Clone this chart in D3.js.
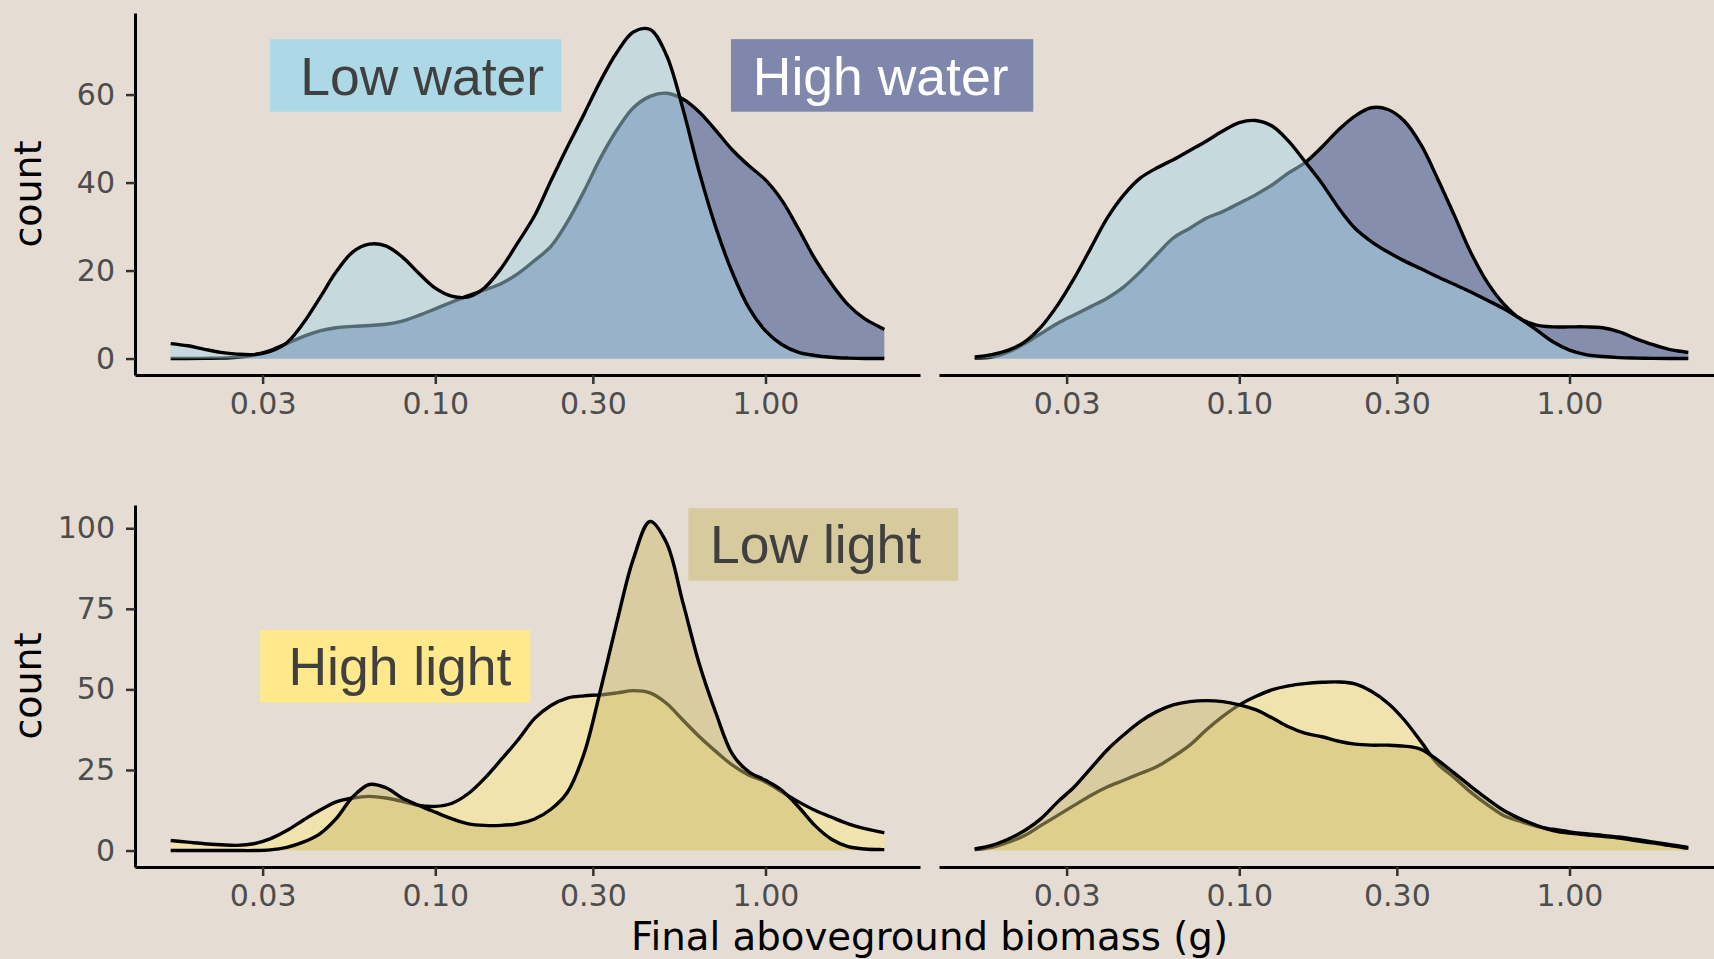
<!DOCTYPE html>
<html>
<head>
<meta charset="utf-8">
<script src="https://cdn.jsdelivr.net/npm/d3@7"></script>
<style>
    body { margin: 0; background: #E5DDD4; }
    svg { display: block; }
</style>
</head>
<body>
<svg id="chart" width="1714" height="959"></svg>
<script>
// biomass grid (g) the densities were read at
const biomass = [0.0158, 0.0178, 0.02, 0.0224, 0.0251, 0.0282, 0.0316, 0.0355, 0.0398, 0.0447,
    0.0501, 0.0562, 0.0631, 0.0708, 0.0794, 0.0891, 0.1, 0.112, 0.126, 0.141,
    0.158, 0.178, 0.2, 0.224, 0.251, 0.282, 0.316, 0.355, 0.398, 0.447,
    0.501, 0.562, 0.631, 0.708, 0.794, 0.891, 1, 1.12, 1.26, 1.41,
    1.58, 1.78, 2, 2.24, 2.29];

// water treatment, left column
const lowWaterLeft = [3.4, 2.9, 2.1, 1.4, 1.0, 0.9, 1.6, 3.6, 8.0, 13.8,
    19.7, 24.2, 26.0, 25.6, 23.1, 19.4, 16.0, 14.2, 14.0, 16.1,
    20.4, 26.4, 32.5, 40.4, 48.0, 55.5, 63.0, 69.6, 74.2, 74.8,
    69.0, 56.8, 42.2, 29.7, 19.5, 11.5, 6.3, 3.2, 1.4, 0.7,
    0.3, 0.1, 0, 0, 0];
const highWaterLeft = [0, 0, 0.05, 0.1, 0.3, 0.8, 1.8, 3.4, 5.0, 6.3,
    7.0, 7.3, 7.5, 7.8, 8.5, 9.8, 11.3, 12.8, 14.3, 15.6,
    17.0, 19.3, 22.3, 25.5, 31.0, 38.0, 45.5, 52.0, 57.0, 59.6,
    60.3, 59.0, 56.0, 51.8, 47.4, 43.8, 40.6, 36.0, 29.4, 22.7,
    17.1, 12.2, 9.0, 7.0, 6.6];

// water treatment, right column
const lowWaterRight = [0.35, 0.9, 1.9, 3.8, 7.2, 12.2, 18.2, 25.1, 31.9, 37.2,
    41.0, 43.3, 45.2, 47.3, 49.4, 51.7, 53.6, 54.1, 52.8, 49.4,
    44.8, 39.8, 34.2, 29.6, 26.6, 24.2, 22.2, 20.4, 18.6, 16.9,
    15.2, 13.3, 11.4, 9.1, 6.5, 3.8, 1.9, 0.9, 0.45, 0.2,
    0.1, 0.05, 0, 0, 0];
const highWaterRight = [0.1, 0.35, 1.5, 3.4, 5.7, 8.0, 9.9, 11.8, 13.7, 16.3,
    19.7, 23.6, 27.4, 29.6, 31.9, 33.4, 35.3, 37.2, 39.5, 42.2,
    44.5, 48.1, 52.0, 55.1, 57.0, 56.6, 54.0, 48.6, 41.0, 32.7,
    24.3, 17.5, 12.5, 9.1, 7.6, 7.2, 7.2, 7.2, 7.0, 6.1,
    4.6, 3.2, 2.1, 1.5, 1.4];

// light treatment, left column
const highLightLeft = [3.1, 2.6, 2.1, 1.8, 1.6, 2.1, 3.6, 6.2, 9.4, 12.5,
    15.1, 16.3, 16.8, 16.3, 15.3, 14.0, 13.7, 14.6, 17.7, 22.4,
    28.1, 34.3, 41.0, 45.0, 47.3, 48.0, 48.3, 48.9, 49.6, 48.9,
    45.7, 40.5, 35.3, 30.7, 26.5, 23.4, 21.3, 18.2, 15.1, 12.5,
    10.4, 8.3, 6.8, 5.7, 5.5];
const lowLightLeft = [0, 0, 0, 0, 0, 0, 0.2, 1.0, 2.6, 5.2,
    9.9, 16.6, 20.5, 19.5, 16.3, 14.0, 11.9, 9.9, 8.3, 7.8,
    7.8, 8.3, 9.8, 12.8, 18.0, 30.0, 49.5, 71.0, 90.5, 102.1,
    95.6, 77.0, 57.7, 42.6, 29.9, 24.4, 21.8, 18.7, 13.5, 7.8,
    3.6, 1.2, 0.5, 0.3, 0.3];

// light treatment, right column
const highLightRight = [0.3, 1.0, 2.6, 4.7, 7.8, 10.9, 14.0, 17.1, 19.7, 21.8,
    23.9, 26.0, 29.1, 32.7, 37.4, 41.6, 45.2, 47.8, 49.9, 51.1,
    51.8, 52.2, 52.3, 51.7, 49.4, 45.7, 40.5, 33.8, 27.0, 22.7,
    18.2, 14.3, 10.9, 9.1, 7.5, 6.6, 5.8, 5.2, 4.7, 4.2,
    3.5, 2.7, 1.9, 1.1, 1.0];
const lowLightRight = [0.5, 1.6, 3.6, 6.2, 9.9, 15.1, 19.7, 25.5, 31.2, 35.9,
    40.0, 43.1, 45.2, 46.2, 46.5, 46.2, 45.2, 43.7, 41.1, 38.4,
    36.4, 35.3, 33.9, 33.0, 32.7, 32.7, 32.4, 31.4, 28.1, 24.1,
    20.0, 16.1, 12.5, 9.9, 7.8, 6.2, 5.4, 4.9, 4.4, 3.9,
    3.1, 2.4, 1.6, 0.8, 0.8];

// tick values
const xTicks = [0.03, 0.1, 0.3, 1];
const waterTicks = [0, 20, 40, 60];
const lightTicks = [0, 25, 50, 75, 100];

// text labels, placed in data units (biomass, count)
const waterLabels = [
    { text: "Low water", x0: 0.0316, x1: 0.241, y0: 56.1, y1: 72.6, tx: 0.039, ty: 59.9, fill: "#ADD8E6", color: "#404040" },
    { text: "High water", x0: 0.786, x1: 6.47, y0: 56.1, y1: 72.6, tx: 0.915, ty: 59.9, fill: "#7F87AD", color: "#FFFFFF" },
];
const lightLabels = [
    { text: "High light", x0: 0.0295, x1: 0.194, y0: 45.9, y1: 68.4, tx: 0.0359, ty: 51.4, fill: "#FFE98B", color: "#404040" },
    { text: "Low light", x0: 0.584, x1: 3.83, y0: 83.7, y1: 106.2, tx: 0.679, ty: 89.1, fill: "#D7CA9C", color: "#404040" },
];

// layout
const columnsX = [135, 939];
const panelWidth = 785;
const tickFont = "DejaVu Sans";

const svg = d3.select("#chart");

// log x scale with ggplot like 5% expansion
const logMin = Math.log10(d3.min(biomass)),
    logMax = Math.log10(d3.max(biomass)),
    logPad = (logMax - logMin) * 0.05;
const xScale = d3
    .scaleLog()
    .domain([Math.pow(10, logMin - logPad), Math.pow(10, logMax + logPad)])
    .range([0, panelWidth]);

const rows = [
    {
        top: 13,
        bottom: 375,
        ticks: waterTicks,
        labels: waterLabels,
        high: { fill: "#868EAE", opacity: 1 },
        low: { fill: "#A7D5E4", opacity: 0.5 },
        panels: [[highWaterLeft, lowWaterLeft], [highWaterRight, lowWaterRight]],
    },
    {
        top: 505,
        bottom: 867,
        ticks: lightTicks,
        labels: lightLabels,
        high: { fill: "#F1E3AE", opacity: 1 },
        low: { fill: "#CBBB6C", opacity: 0.5 },
        panels: [[highLightLeft, lowLightLeft], [highLightRight, lowLightRight]],
    },
];

rows.forEach((row) => {
    // shared y scale for the row
    const yMax = d3.max(row.panels.flat(2));
    const yScale = d3
        .scaleLinear()
        .domain([-yMax * 0.05, yMax * 1.05])
        .range([row.bottom, row.top]);

    const curve = d3.curveCatmullRom.alpha(0.5);

    const area = d3
        .area()
        .x((d) => xScale(d[0]))
        .y0(yScale(0))
        .y1((d) => yScale(Math.max(0, d[1])))
        .curve(curve);

    const line = d3
        .line()
        .x((d) => xScale(d[0]))
        .y((d) => yScale(d[1]))
        .curve(curve);

    row.panels.forEach(([highValues, lowValues], col) => {
        const g = svg
            .append("g")
            .attr("transform", "translate(" + columnsX[col] + ",0)");

        // high first, low drawn on top of it
        [[highValues, row.high], [lowValues, row.low]].forEach(([values, style]) => {
            const points = biomass.map((b, i) => [b, values[i]]);
            g.append("path")
                .datum(points)
                .attr("d", area)
                .style("fill", style.fill)
                .style("fill-opacity", style.opacity);
            g.append("path")
                .datum(points)
                .attr("d", line)
                .style("fill", "none")
                .style("stroke", "#000")
                .style("stroke-width", 3.4)
                .style("stroke-linejoin", "round");
        });

        // x axis
        const xAxis = g
            .append("g")
            .attr("transform", "translate(0," + row.bottom + ")")
            .call(
                d3
                    .axisBottom(xScale)
                    .tickValues(xTicks)
                    .tickFormat(d3.format(".2f"))
                    .tickSizeInner(9)
                    .tickSizeOuter(0)
                    .tickPadding(9)
            );
        styleAxis(xAxis);

        // y axis only on the left column
        if (col === 0) {
            const yAxis = g.append("g").call(
                d3
                    .axisLeft(yScale)
                    .tickValues(row.ticks)
                    .tickSizeInner(9)
                    .tickSizeOuter(0)
                    .tickPadding(11)
            );
            styleAxis(yAxis);

            // y title
            svg.append("text")
                .attr("text-anchor", "middle")
                .attr("transform", "translate(41," + (row.top + row.bottom) / 2 + ")rotate(-90)")
                .style("font-family", tickFont)
                .style("font-size", "38px")
                .style("fill", "#000")
                .text("count");

            // labels
            row.labels.forEach((lab) => {
                g.append("rect")
                    .attr("x", xScale(lab.x0))
                    .attr("y", yScale(lab.y1))
                    .attr("width", xScale(lab.x1) - xScale(lab.x0))
                    .attr("height", yScale(lab.y0) - yScale(lab.y1))
                    .style("fill", lab.fill);
                g.append("text")
                    .attr("x", xScale(lab.tx))
                    .attr("y", yScale(lab.ty))
                    .style("font-family", "Liberation Sans")
                    .style("font-size", "53.5px")
                    .style("fill", lab.color)
                    .text(lab.text);
            });
        }
    });
});

// x title
svg.append("text")
    .attr("x", (columnsX[0] + columnsX[1] + panelWidth) / 2)
    .attr("y", 950)
    .attr("text-anchor", "middle")
    .style("font-family", tickFont)
    .style("font-size", "38.7px")
    .style("fill", "#000")
    .text("Final aboveground biomass (g)");

function styleAxis(axis) {
    axis.attr("font-family", tickFont).attr("font-size", 30);
    axis.select(".domain").attr("stroke", "#000").attr("stroke-width", 3);
    axis.selectAll(".tick line").attr("stroke", "#333").attr("stroke-width", 2.5);
    axis.selectAll(".tick text").attr("fill", "#4D4D4D");
}
</script>
</body>
</html>
